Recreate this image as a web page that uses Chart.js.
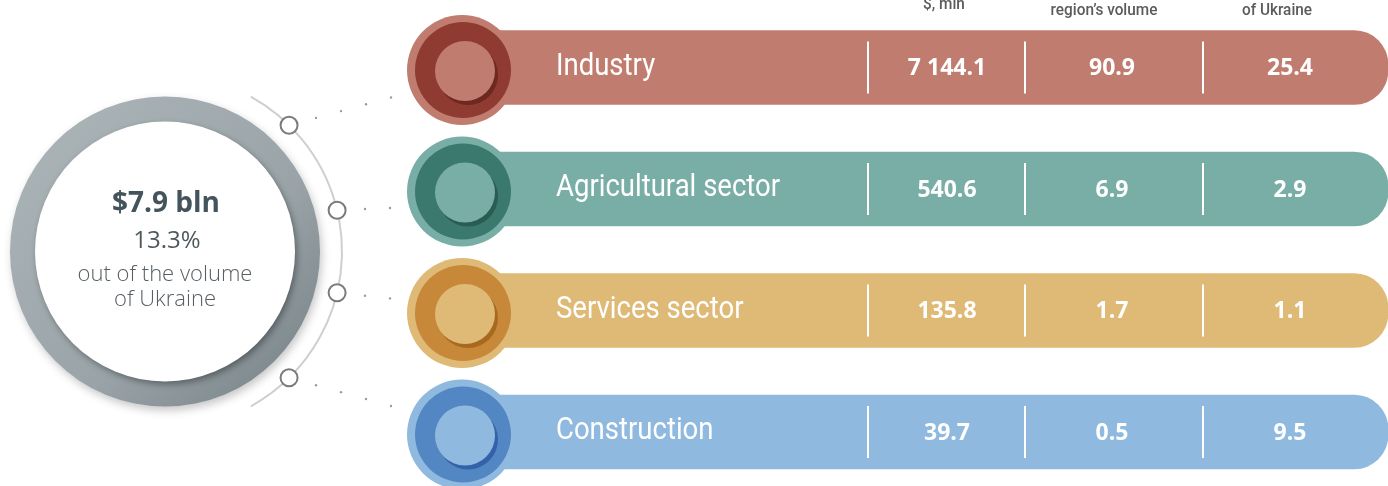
<!DOCTYPE html>
<html>
<head>
<meta charset="utf-8">
<title>Gross value added by sector</title>
<script src="https://cdn.jsdelivr.net/npm/chart.js@4/dist/chart.umd.min.js"></script>
<style>
  html, body { margin: 0; padding: 0; background: #fff; }
  #chart { display: block; }
</style>
</head>
<body>
<canvas id="chart" width="1388" height="486"></canvas>
<script>
// Data
const sectors = ['Industry', 'Agricultural sector', 'Services sector', 'Construction'];
const volumeMln = [7144.1, 540.6, 135.8, 39.7];
const shareOfRegion = [90.9, 6.9, 1.7, 0.5];
const shareOfUkraine = [25.4, 2.9, 1.1, 9.5];
const rowSpan = [1, 1, 1, 1];
const columnHeaders = ['$, mln', 'region\u2019s volume', 'of Ukraine'];
const totalLabel = '$7.9 bln';
const totalShare = '13.3%';
const totalNote = ['out of the volume', 'of Ukraine'];

// Colours per row: bar, dark ring, ring shadow
const barColors = ['#c17c70', '#79aea7', '#dfba76', '#8fb9de'];
const ringColors = ['#8f3b31', '#3b786e', '#c7883a', '#5387c3'];
const shadowColors = ['#6d2820', '#2a5c54', '#a8691f', '#3462a8'];

const fmt = (n) => n.toFixed(1).replace(/\B(?=(\d{3})+(?!\d))/g, ' ');

// where things sit (pixels)
const bigCircle = { x: 165, y: 251.5, r: 155, inner: 130, arc: 177 };
const knobAngles = [-45.5, -13.5, 13.5, 45.5];
const separatorsX = [868, 1025, 1203];
const valueX = [947, 1112, 1290];
const headerX = [944, 1104, 1277];
const headerBase = [9, 15, 15];

const circle = (ctx, x, y, r, fill) => {
    ctx.beginPath();
    ctx.arc(x, y, r, 0, Math.PI * 2);
    ctx.fillStyle = fill;
    ctx.fill();
};

const squeezeText = (ctx, text, x, y, factor) => {
    const w = ctx.measureText(text).width;
    ctx.fillText(text, x, y, w * factor);
};

const infographic = {
    id: 'infographic',
    beforeDatasetsDraw(chart) {
        const ctx = chart.ctx;
        const c = bigCircle;
        ctx.save();

        // thin arc behind the knobs
        ctx.beginPath();
        ctx.arc(c.x, c.y, c.arc, -61 * Math.PI / 180, 61 * Math.PI / 180);
        ctx.strokeStyle = '#cfcfcf';
        ctx.lineWidth = 2;
        ctx.stroke();

        // dotted connectors
        ctx.fillStyle = '#9a9a9a';
        const bars = chart.getDatasetMeta(0).data;
        knobAngles.forEach((a, i) => {
            const rad = a * Math.PI / 180;
            const kx = c.x + c.arc * Math.cos(rad);
            const ky = c.y + c.arc * Math.sin(rad);
            const ty = bars[i].y + (i === 0 ? 30 : i === 3 ? -26 : i === 1 ? 19 : -12);
            const n = (i === 0 || i === 3) ? 4 : 2;
            const endX = 391;
            for (let k = 0; k < n; k++) {
                const px = (n === 4) ? 316 + k * 25 : 365 + k * 25;
                const t = (px - kx) / (endX - kx);
                const py = ky + (ty - ky) * t;
                ctx.beginPath();
                ctx.arc(px, py, 1.2, 0, Math.PI * 2);
                ctx.fill();
            }
        });

        // knobs
        knobAngles.forEach((a) => {
            const rad = a * Math.PI / 180;
            const kx = c.x + c.arc * Math.cos(rad);
            const ky = c.y + c.arc * Math.sin(rad);
            ctx.beginPath();
            ctx.arc(kx, ky, 8.5, 0, Math.PI * 2);
            ctx.fillStyle = '#fff';
            ctx.fill();
            ctx.strokeStyle = '#7b7b7b';
            ctx.lineWidth = 2;
            ctx.stroke();
        });

        // big grey ring
        ctx.save();
        ctx.shadowColor = 'rgba(0,0,0,0.22)';
        ctx.shadowBlur = 8;
        ctx.shadowOffsetX = 2;
        ctx.shadowOffsetY = 4;
        const g = ctx.createLinearGradient(c.x - c.r, c.y - c.r, c.x + c.r, c.y + c.r);
        g.addColorStop(0, '#adb6b9');
        g.addColorStop(0.6, '#9aa4a8');
        g.addColorStop(1, '#737e83');
        circle(ctx, c.x, c.y, c.r, g);
        ctx.restore();

        ctx.save();
        ctx.shadowColor = 'rgba(0,0,0,0.35)';
        ctx.shadowBlur = 6;
        ctx.shadowOffsetX = 2;
        ctx.shadowOffsetY = 3;
        circle(ctx, c.x, c.y, c.inner, '#ffffff');
        ctx.restore();

        // centre text
        ctx.textAlign = 'center';
        ctx.textBaseline = 'middle';
        ctx.fillStyle = '#44545c';
        ctx.font = '700 28px "Open Sans"';
        ctx.fillText(totalLabel, c.x + 1, 204);
        ctx.fillStyle = '#4f585d';
        ctx.font = '400 24px "Open Sans"';
        ctx.fillText(totalShare, c.x + 2, 241);
        ctx.fillStyle = '#575f64';
        ctx.font = '300 22px "Open Sans"';
        ctx.fillText(totalNote[0], c.x, 275);
        ctx.fillText(totalNote[1], c.x, 300);

        // column headers (cut by the top edge)
        ctx.fillStyle = '#5b5b5b';
        ctx.font = '500 16px Roboto';
        ctx.textBaseline = 'alphabetic';
        columnHeaders.forEach((h, i) => squeezeText(ctx, h, headerX[i], headerBase[i], 0.96));

        ctx.restore();
    },
    afterDatasetsDraw(chart) {
        const ctx = chart.ctx;
        const bars = chart.getDatasetMeta(0).data;
        ctx.save();
        bars.forEach((bar, i) => {
            const cy = bar.y;
            const ix = 462;
            // icon
            circle(ctx, ix, cy + 2.5, 55, barColors[i]);
            circle(ctx, ix + 1, cy + 2.5, 48, ringColors[i]);
            circle(ctx, ix + 6, cy + 7.5, 30, shadowColors[i]);
            circle(ctx, ix + 3, cy + 3.5, 30, barColors[i]);

            // sector label
            ctx.fillStyle = '#ffffff';
            ctx.textAlign = 'left';
            ctx.textBaseline = 'middle';
            ctx.font = '400 32px Roboto';
            squeezeText(ctx, sectors[i], 556, cy - 1, 0.86);

            // separators
            ctx.strokeStyle = '#ffffff';
            ctx.lineWidth = 2;
            separatorsX.forEach((sx) => {
                ctx.beginPath();
                ctx.moveTo(sx, cy - 26);
                ctx.lineTo(sx, cy + 26);
                ctx.stroke();
            });

            // values
            ctx.textAlign = 'center';
            ctx.font = '700 23px "Open Sans"';
            const vals = [fmt(volumeMln[i]), shareOfRegion[i].toFixed(1), shareOfUkraine[i].toFixed(1)];
            vals.forEach((v, k) => ctx.fillText(v, valueX[k], cy + 1));
        });
        ctx.restore();
    }
};

const ctx = document.getElementById('chart').getContext('2d');

new Chart(ctx, {
    type: 'bar',
    data: {
        labels: sectors,
        datasets: [
            {
                data: rowSpan,
                backgroundColor: barColors,
                barThickness: 74,
                borderRadius: 34,
                borderSkipped: 'start',
                clip: false,
            },
        ]
    },
    options: {
        indexAxis: 'y',
        responsive: false,
        animation: false,
        events: [],
        layout: { padding: { left: 462, right: 0, top: 67.5, bottom: 54 } },
        plugins: {
            legend: { display: false },
            tooltip: { enabled: false },
        },
        scales: {
            x: { display: false, min: 0, max: 1 },
            y: { display: false, offset: false },
        },
    },
    plugins: [infographic],
});
</script>
</body>
</html>
